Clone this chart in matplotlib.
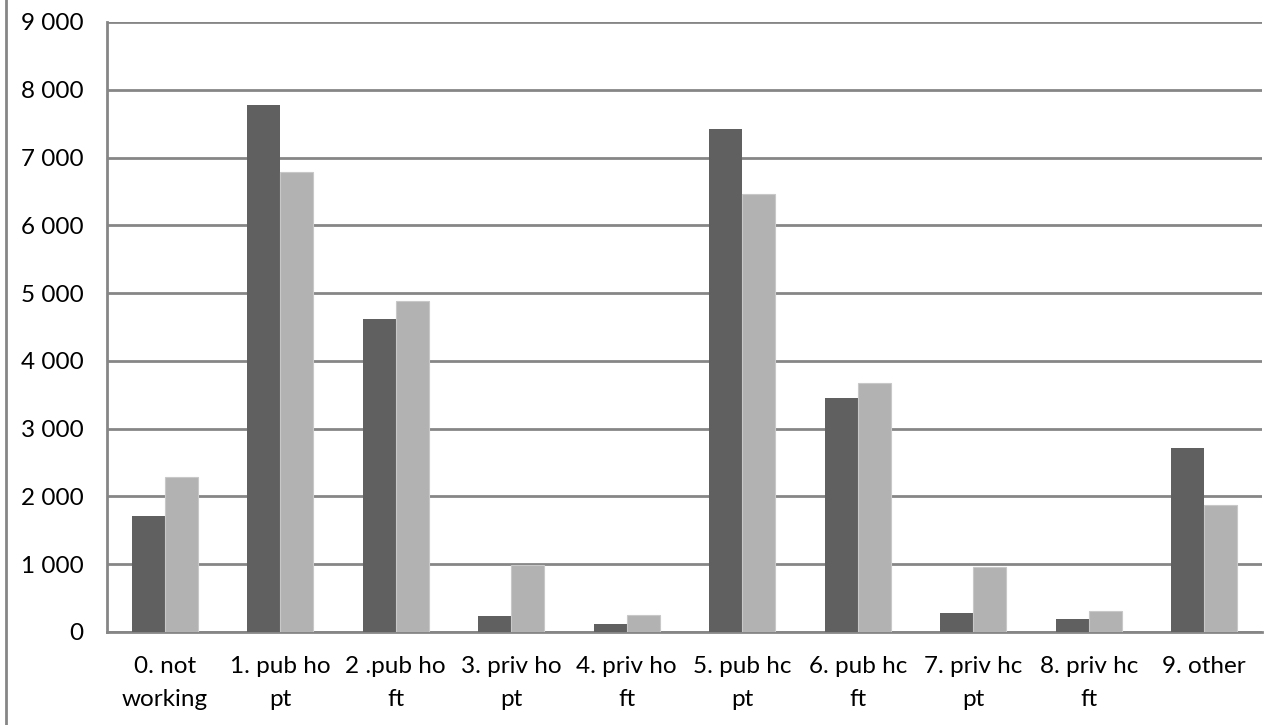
import matplotlib.pyplot as plt
import numpy as np
from matplotlib.lines import Line2D
from matplotlib.ticker import FuncFormatter

plt.rcParams['font.family'] = ['Lato', 'DejaVu Sans']

categories = [
    '0. not\nworking', '1. pub ho\npt', '2 .pub ho\nft', '3. priv ho\npt',
    '4. priv ho\nft', '5. pub hc\npt', '6. pub hc\nft', '7. priv hc\npt',
    '8. priv hc\nft', '9. other',
]
series_dark = [1710, 7770, 4620, 240, 120, 7420, 3450, 280, 190, 2710]
series_light = [2280, 6790, 4890, 985, 250, 6460, 3680, 960, 310, 1880]
y_ticks = list(range(0, 9001, 1000))

dark_color = '#606060'
light_color = '#b2b2b2'
grid_color = '#868686'

fig = plt.figure(figsize=(12.67, 7.25), dpi=100)
ax = fig.add_axes([107 / 1267, 93 / 725, 1155 / 1267, 610 / 725])

x = np.arange(len(categories))
width = 0.286
ax.bar(x - width / 2, series_dark, width, color=dark_color, zorder=3)
ax.bar(x + width / 2, series_light, width, color=light_color,
       edgecolor='#c8c8c8', linewidth=0.8, zorder=3)

ax.set_xlim(-0.5, len(categories) - 0.5)
ax.set_ylim(0, 9000)
ax.set_yticks(y_ticks)
ax.yaxis.set_major_formatter(
    FuncFormatter(lambda v, _: f'{int(v):,}'.replace(',', ' ')))
ax.set_xticks(x)
ax.set_xticklabels(categories, linespacing=1.7)
ax.tick_params(axis='y', length=0, pad=17, labelsize=17.5)
ax.tick_params(axis='x', length=0, pad=17, labelsize=17.5)

ax.yaxis.grid(True, color=grid_color, linewidth=2, zorder=0)
ax.set_axisbelow(True)
for side in ['top', 'right']:
    ax.spines[side].set_visible(False)
for side in ['left', 'bottom']:
    ax.spines[side].set_color(grid_color)
    ax.spines[side].set_linewidth(2)

# outer chart border (only the left edge is visible in the frame)
fig.add_artist(Line2D([6 / 1267, 6 / 1267], [0, 1], color=grid_color,
                      linewidth=2, transform=fig.transFigure))

fig.savefig('out.png', dpi=100)
